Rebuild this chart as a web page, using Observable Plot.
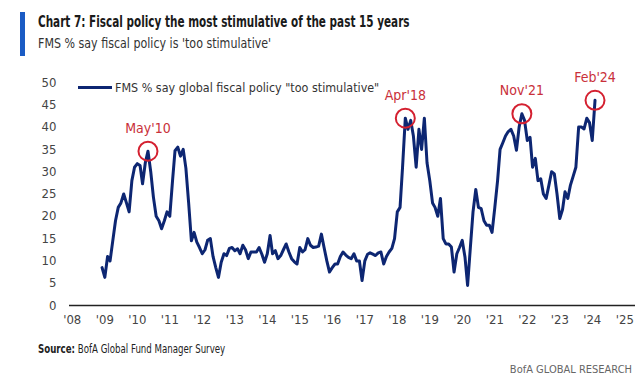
<!DOCTYPE html>
<html><head><meta charset="utf-8">
<script src="https://cdn.jsdelivr.net/npm/d3@7"></script>
<script src="https://cdn.jsdelivr.net/npm/@observablehq/plot@0.6"></script>
<style>
body{margin:0;background:#fff;width:640px;height:378px;overflow:hidden;position:relative;font-family:"Liberation Sans Narrow","DejaVu Sans Condensed","Arial Narrow",sans-serif;}
#head{position:absolute;left:20px;top:12px;border-left:5px solid #1a5bc4;padding-left:13px;height:44px}
#title{font-weight:bold;font-size:15px;color:#1a1a1a;line-height:20px;white-space:nowrap;transform:scaleX(0.775);transform-origin:0 0;width:max-content}
#sub{font-size:14px;color:#333;line-height:22px;white-space:nowrap;transform:scaleX(0.88);transform-origin:0 0;width:max-content}
#chart{position:absolute;left:0;top:62px}
#legend{position:absolute;left:78px;top:80px;font-size:13px;color:#333;display:flex;align-items:center;white-space:nowrap}
#legend .sw{display:inline-block;width:34px;height:3px;background:#0d2672;margin-right:3px}
#legtext{display:inline-block;transform:scaleX(0.955);transform-origin:0 50%}
#source{position:absolute;left:38px;top:342px;font-size:12px;color:#222;white-space:nowrap;transform:scaleX(0.8);transform-origin:0 0}
#brand{position:absolute;right:8px;top:363px;font-size:11px;color:#666;white-space:nowrap}
</style></head>
<body>
<div id="head"><div id="title">Chart 7: Fiscal policy the most stimulative of the past 15 years</div><div id="sub">FMS % say fiscal policy is 'too stimulative'</div></div>
<div id="chart"></div>
<div id="legend"><span class="sw"></span><span id="legtext"></span></div>
<div id="source"><b>Source:</b> BofA Global Fund Manager Survey</div>
<div id="brand">BofA GLOBAL RESEARCH</div>
<script>
const seriesName = "FMS % say global fiscal policy \"too stimulative\"";
const startMonth = [2008, 11]; // Dec 2008 (year, 0-based month)
const fmsValues = [
  8.5,
  6.3, 11, 10, 14.6, 19, 22, 23, 25, 23, 21, 28, 31,
  31.8, 31.4, 27.3, 32, 34.6, 30, 24.3, 20, 19, 17.2, 19, 21,
  20, 28, 34.7, 35.5, 33.5, 35, 30.8, 23, 14.5, 16.4, 14.2, 13,
  11.6, 12.5, 14.6, 15, 11, 8.5, 6.3, 9.7, 11.6, 11.2, 12.8, 13,
  12.3, 12.7, 11.6, 13.5, 12.5, 10.5, 12, 12, 12, 13, 11.5, 9.7,
  11.6, 15.7, 11.6, 12.3, 10.5, 11.2, 12.5, 13.8, 12, 10.5, 9.8, 9.3,
  13, 12, 12.5, 15, 13.5, 13, 13.1, 13.3, 16, 13, 10, 7.5,
  8.5, 9.3, 9.3, 11, 12, 11.3, 10.8, 10.5, 11.6, 10, 10, 5.6,
  10, 11.5, 11.8, 11.5, 11.2, 11.8, 12, 9.3, 11, 12, 12.8, 15,
  21, 22, 31, 42, 39.5, 41.5, 38, 31, 39.5, 35, 42, 32,
  28, 23, 22, 20, 24, 15, 13.8, 13.8, 13.1, 7.5, 11.6, 13,
  14.6, 10.8, 4.5, 13, 21, 26, 22, 21.7, 19, 18, 18, 16.4,
  22, 28, 35, 36.5, 38, 39, 39.5, 38, 34.8, 40, 43, 41.5,
  37, 37.7, 31, 33, 28, 28.4, 25, 24, 27, 30, 29.5, 25,
  19.5, 21.5, 25.5, 24, 27, 29, 31, 40, 40, 39.6, 42, 41,
  37, 46
];
const annLabels = ["May'10", "Apr'18", "Nov'21", "Feb'24"];
const annMonths = [[2010, 4], [2018, 3], [2021, 10], [2024, 1]];
const xTickYears = [2008,2009,2010,2011,2012,2013,2014,2015,2016,2017,2018,2019,2020,2021,2022,2023,2024,2025];
const yTicks = [0,5,10,15,20,25,30,35,40,45,50];

const data = fmsValues.map((v, i) => ({date: new Date(Date.UTC(startMonth[0], startMonth[1] + i, 1)), value: v}));
const ann = annLabels.map((l, i) => {
  const d = new Date(Date.UTC(annMonths[i][0], annMonths[i][1], 1));
  const row = data.find(r => +r.date === +d);
  return {label: l, date: d, value: row.value};
});
document.getElementById("legtext").textContent = seriesName;

const font = '"Liberation Sans Narrow","DejaVu Sans Condensed","Arial Narrow",sans-serif';
const chart = Plot.plot({
  width: 640, height: 278,
  marginLeft: 69, marginRight: 5, marginTop: 20, marginBottom: 35,
  style: {fontFamily: font, fontSize: "13px", color: "#444", background: "transparent"},
  x: {type: "utc", domain: [new Date(Date.UTC(2007, 11, 1)), new Date(Date.UTC(2025, 4, 1))],
      ticks: xTickYears.map(y => new Date(Date.UTC(y, 0, 1))),
      tickFormat: d => "'" + String(d.getUTCFullYear()).slice(2), tickSize: 0, tickPadding: 9, label: null},
  y: {domain: [0, 50], ticks: yTicks, tickSize: 0, tickPadding: 13, label: null},
  marks: [
    Plot.ruleY([0], {stroke: "#222", strokeWidth: 1.5}),
    Plot.lineY(data, {x: "date", y: "value", stroke: "#0d2672", strokeWidth: 3, strokeLinejoin: "round"}),
    Plot.dot(ann, {x: "date", y: "value", r: 9.5, stroke: "#d42030", strokeWidth: 2, fill: "none"}),
    Plot.text(ann, {x: "date", y: "value", text: "label", dy: -23, fill: "#c9303a", fontSize: 14})
  ]
});
document.getElementById("chart").appendChild(chart);
</script>
</body></html>
